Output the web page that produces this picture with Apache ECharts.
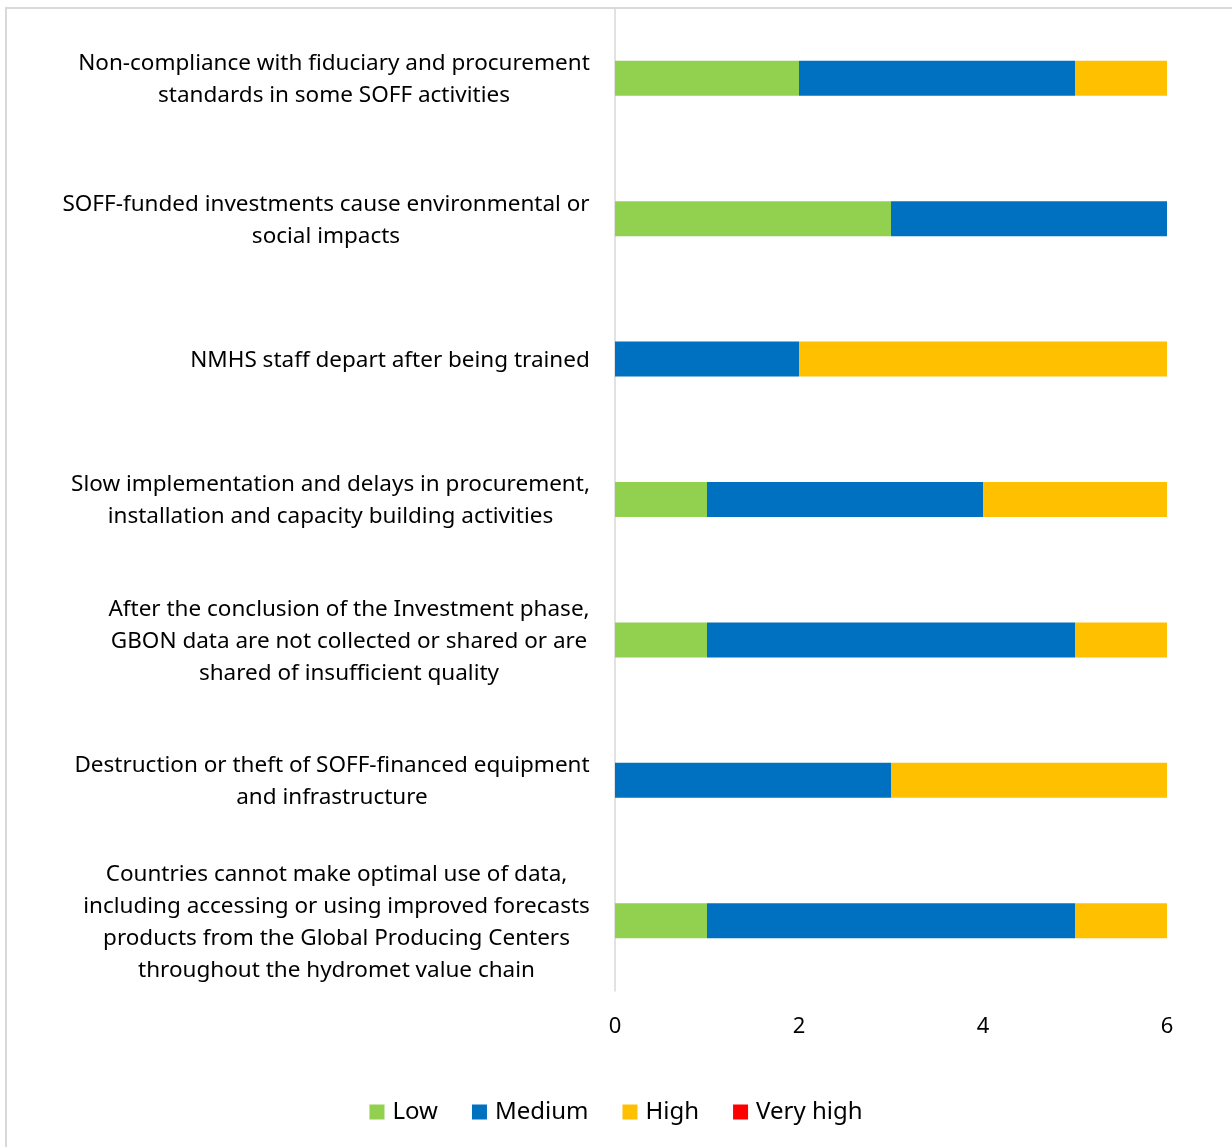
<!DOCTYPE html>
<html>
<head>
<meta charset="utf-8">
<script src="https://cdn.jsdelivr.net/npm/echarts@6/dist/echarts.min.js"></script>
<style>
html,body{margin:0;padding:0;background:#fff;}
#chart{width:1232px;height:1147px;}
</style>
</head>
<body>
<div id="chart"></div>
<script>
const categories = [
  "Non-compliance with fiduciary and procurement\nstandards in some SOFF activities",
  "SOFF-funded investments cause environmental or\nsocial impacts",
  "NMHS staff depart after being trained",
  "Slow implementation and delays in procurement,\ninstallation and capacity building activities",
  "After the conclusion of the Investment phase,\nGBON data are not collected or shared or are\nshared of insufficient quality",
  "Destruction or theft of SOFF-financed equipment\nand infrastructure",
  "Countries cannot make optimal use of data,\nincluding accessing or using improved forecasts\nproducts from the Global Producing Centers\nthroughout the hydromet value chain"
];
const lowValues = [2, 3, 0, 1, 1, 0, 1];
const mediumValues = [3, 3, 2, 3, 4, 3, 4];
const highValues = [1, 0, 4, 2, 1, 3, 1];
const veryHighValues = [0, 0, 0, 0, 0, 0, 0];
const xTicks = [0, 2, 4, 6];

const FONT = "'Noto Sans', 'Open Sans', sans-serif";
const LABEL_SIZE = 22.5;

// measure widest line of each category so lines can be centred within the block
const cv = document.createElement('canvas').getContext('2d');
cv.font = LABEL_SIZE + "px 'Noto Sans'";
const rich = {};
categories.forEach((c, i) => {
  const w = Math.max(...c.split('\n').map(l => cv.measureText(l).width));
  rich['r' + i] = {width: Math.ceil(w) + 2, align: 'center', fontFamily: FONT,
    fontSize: LABEL_SIZE, lineHeight: 32, color: '#000', padding: [3, 0, 0, 0]};
});

const chart = echarts.init(document.getElementById('chart'));
function s(name, data, color) {
  return {name, type: 'bar', stack: 'total', data, barWidth: 35,
    itemStyle: {color}, emphasis: {disabled: true}};
}
chart.setOption({
  animation: false,
  graphic: [{type: 'rect', shape: {x: 6, y: 8, width: 1240, height: 1160},
    style: {fill: 'none', stroke: '#d9d9d9', lineWidth: 2}, silent: true}],
  grid: {left: 615, right: 65, top: 8, bottom: 156, containLabel: false},
  xAxis: {type: 'value', min: xTicks[0], max: xTicks[xTicks.length - 1], interval: 2,
    axisLine: {show: false}, axisTick: {show: false}, splitLine: {show: false},
    axisLabel: {fontFamily: FONT, fontSize: 22, color: '#000', margin: 25}},
  yAxis: {type: 'category', inverse: true, data: categories,
    axisLine: {show: true, lineStyle: {color: '#d9d9d9', width: 1.5}},
    axisTick: {show: false},
    axisLabel: {fontFamily: FONT, fontSize: LABEL_SIZE, color: '#000', margin: 24,
      lineHeight: 32, align: 'right', rich,
      formatter: (v, i) => '{r' + i + '|' + v + '}'}},
  legend: {bottom: 18, left: 'center', itemWidth: 15, itemHeight: 15, itemGap: 34,
    icon: 'rect',
    textStyle: {fontFamily: FONT, fontSize: 24, color: '#000', padding: [0, 0, 0, 3]},
    data: ['Low', 'Medium', 'High', 'Very high']},
  series: [
    s('Low', lowValues, '#92D050'),
    s('Medium', mediumValues, '#0070C0'),
    s('High', highValues, '#FFC000'),
    s('Very high', veryHighValues, '#FF0000')
  ]
});
</script>
</body>
</html>
